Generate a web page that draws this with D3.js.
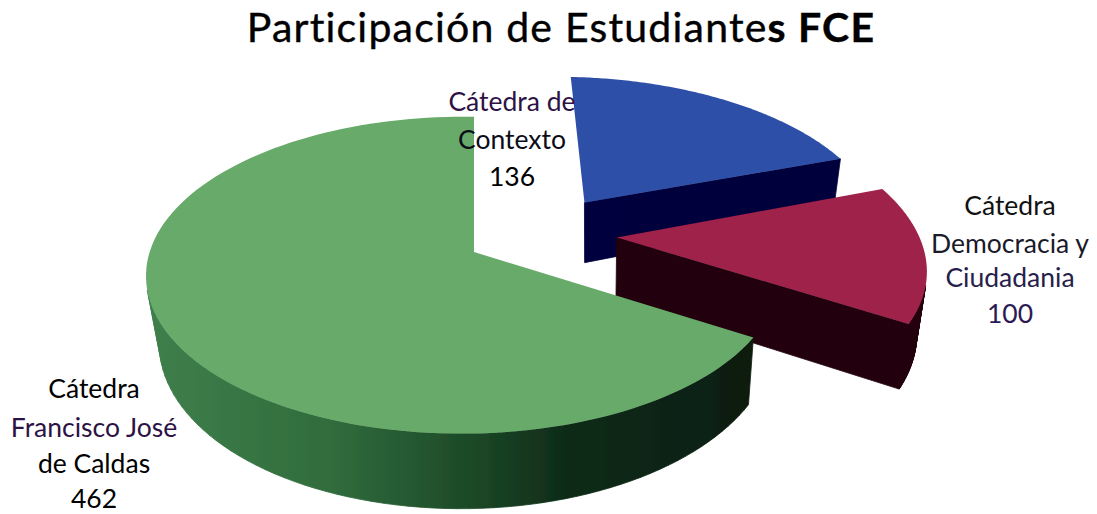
<!DOCTYPE html>
<html><head><meta charset="utf-8">
<script src="https://cdn.jsdelivr.net/npm/d3@7"></script>
<style>html,body{margin:0;background:#fff}svg{display:block}text{font-family:Lato,"Open Sans",sans-serif}</style>
</head><body><svg id="c" width="1097" height="514"></svg>
<script>
const categories = ["Cátedra de Contexto","Cátedra Democracia y Ciudadania","Cátedra Francisco José de Caldas"];
const values = [136,100,462];
const labelLines = [["Cátedra de","Contexto"],["Cátedra","Democracia y","Ciudadania"],["Cátedra","Francisco José","de Caldas"]];
const labelColors = [["#2d1245","#0c0c18","#000"],["#111","#1a1a2a","#26204a","#2d1a55"],["#000","#2d1245","#000","#000"]];
const labelCenters = [[512,111],[1010,215],[94,398]];
const lineSteps = [[38,37],[38,34,36],[39,36,35]];
const topColors = ["#2d50a8","#9e2049","#67aa69"];
const explodeU = [0.375,0.47,0], explodeV = [-0.34,-0.097,0], radii = [1.03,1.05,1];
const drawOrder = [0,1,2];

const svg = d3.select("#c");
const defs = svg.append("defs");
defs.append("filter").attr("id","soft").append("feGaussianBlur").attr("stdDeviation",0.7);
const sideGrads = [
  [[0,"#010145"],[1,"#01013c"]],
  [[0,"#1e000a"],[1,"#22000c"]],
  [[0,"#3f7f4c"],[0.3,"#306c3c"],[0.52,"#1d4a28"],[0.68,"#0f2c18"],[1,"#0a1c10"]]
];
sideGrads.forEach((stops,i)=>{
  const g = defs.append("linearGradient").attr("id","side"+i).attr("gradientUnits","userSpaceOnUse")
    .attr("x1",150).attr("x2",760).attr("y1",0).attr("y2",0);
  stops.forEach(s=>g.append("stop").attr("offset",s[0]).attr("stop-color",s[1]));
});

// perspective projection of the pie plane
const cx=474, cy=252, B=313, A=155, P=0.146, Q=0.035, D=64, K=0.97, VX=590;
const xS = d3.scaleLinear().domain([0,1]).range([cx,cx+B]);
const yS = d3.scaleLinear().domain([0,1]).range([cy,cy+A]);
function proj(u,v){const d=1-P*v+Q*u;return [xS(u/d),yS(v/d)];}
function projB(u,v){const d=1-P*v+Q*u;const p=proj(u,v);return [VX+(p[0]-VX)*K,p[1]+D/d];}

const arcs = d3.pie().sort(null).startAngle(0).endAngle(2*Math.PI)(values);
const line = d3.line();
const g = svg.append("g").attr("filter","url(#soft)");
drawOrder.forEach(i=>{
  const a=arcs[i], ex=explodeU[i], ev=explodeV[i], r=radii[i];
  const world=[[ex,ev]];
  d3.range(0,121).forEach(k=>{
    const t=a.startAngle+(a.endAngle-a.startAngle)*k/120;
    world.push([ex+r*Math.sin(t),ev-r*Math.cos(t)]);
  });
  const top=world.map(w=>proj(w[0],w[1])), bot=world.map(w=>projB(w[0],w[1]));
  let sd="";
  top.forEach((p,k)=>{
    const n=(k+1)%top.length;
    const radial=(k===0||k===top.length-1);
    const steep=Math.abs(top[n][1]-p[1])>3*Math.abs(top[n][0]-p[0]);
    if(radial&&steep) return;
    const quad=[p,top[n],bot[n],bot[k]];
    if(d3.polygonArea(quad)>0) sd+=line(quad)+"Z";
  });
  g.append("path").attr("d",sd).attr("fill","url(#side"+i+")").attr("stroke","url(#side"+i+")").attr("stroke-width",0.8);
  g.append("path").attr("d",line(top)+"Z").attr("fill",topColors[i]);
});

const title = svg.append("text").attr("x",561).attr("y",42).attr("text-anchor","middle")
  .attr("font-size",41).attr("fill","#000").attr("letter-spacing",1.2).attr("stroke","#000").attr("stroke-width",0.4);
title.append("tspan").text("Participación de Estudiante");
title.append("tspan").attr("font-weight",700).text("s FCE");

labelLines.forEach((ls,i)=>{
  const c=labelCenters[i];
  const all=ls.concat([String(values[i])]);
  let y=c[1];
  all.forEach((t,j)=>{
    svg.append("text").attr("x",c[0]).attr("y",y).attr("text-anchor","middle")
      .attr("font-size",26.5).attr("fill",labelColors[i][j]).text(t);
    y+=lineSteps[i][j]||0;
  });
});
</script></body></html>
